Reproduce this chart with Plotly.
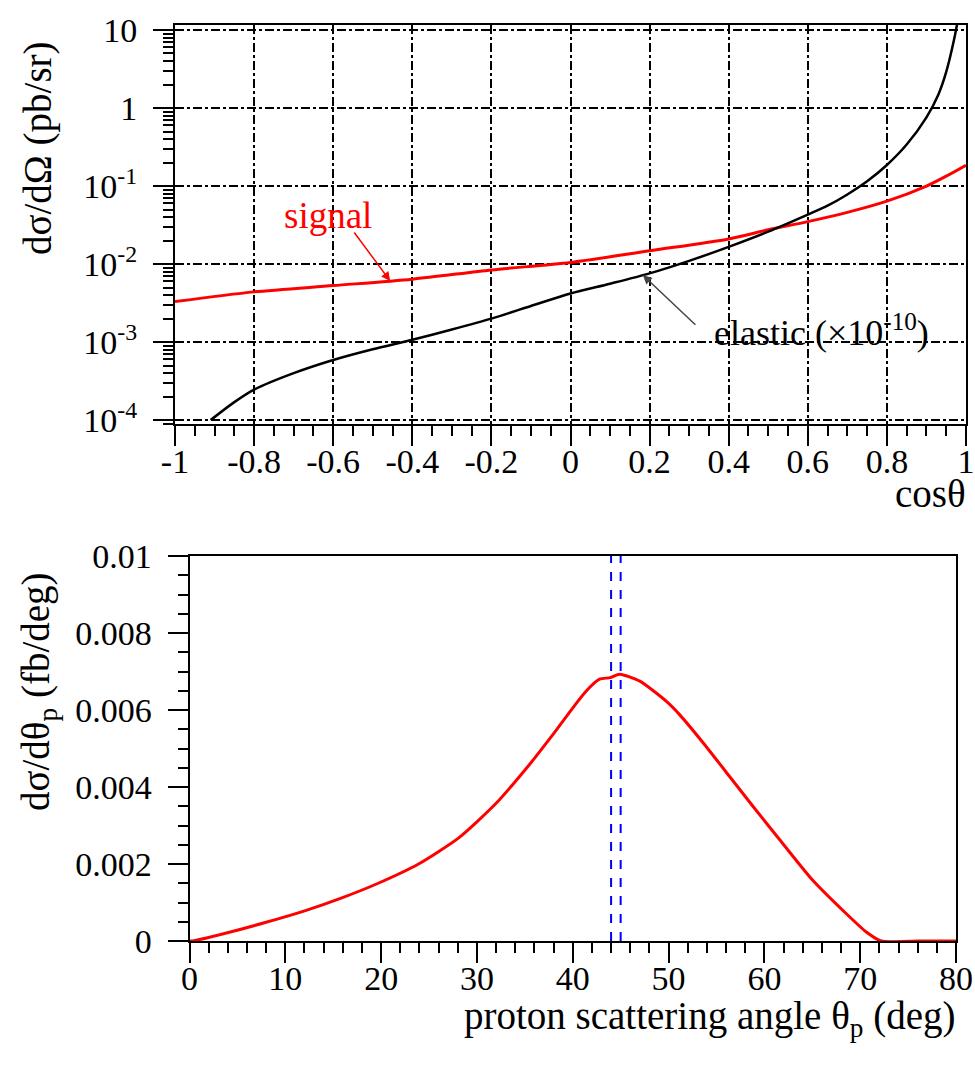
import numpy as np
import plotly.graph_objects as go

# ---------------- data ----------------
# top panel: dsigma/dOmega vs cos(theta)
cos_signal = [-1.0, -0.8, -0.6, -0.4, -0.2, 0.0, 0.2, 0.4, 0.5, 0.6, 0.7, 0.8, 0.9,
              0.95, 1.0]
xsec_signal = [3.3e-3, 4.4e-3, 5.3e-3, 6.4e-3, 8.4e-3, 1.05e-2, 1.48e-2, 2.1e-2,
               2.75e-2, 3.5e-2, 4.6e-2, 6.4e-2, 1.0e-1, 1.34e-1, 1.85e-1]

cos_elastic = [-0.91, -0.85, -0.8, -0.7, -0.6, -0.5, -0.4, -0.3, -0.2, -0.1, 0.0, 0.1,
               0.2, 0.3, 0.4, 0.5, 0.6, 0.65, 0.7, 0.75, 0.8, 0.85, 0.9, 0.93, 0.95,
               0.97, 0.98]
xsec_elastic = [1.0e-4, 1.7e-4, 2.46e-4, 4.0e-4, 5.9e-4, 8.1e-4, 1.07e-3, 1.45e-3,
                2.0e-3, 2.9e-3, 4.2e-3, 5.6e-3, 7.6e-3, 1.1e-2, 1.66e-2, 2.6e-2,
                4.3e-2, 5.6e-2, 7.8e-2, 0.115, 0.186, 0.34, 0.76, 1.48, 2.9, 7.6, 14.0]

# bottom panel: dsigma/dtheta_p vs proton angle
theta_p = [0.0, 0.3, 3.75, 7.9, 12.1, 15.9, 19.7, 23.9, 28.1, 31.9, 35.7, 37.8, 41.25,
           42.8, 43.9, 44.9, 47.0, 49.75, 51.15, 53.6, 56.35, 58.8, 61.6, 65.0, 68.5,
           70.6, 72.2, 76.0, 80.0]
dsig_dtheta = [0.0, 0.0, 0.0002, 0.00048, 0.00079, 0.00112, 0.0015, 0.002, 0.00268,
               0.00355, 0.00465, 0.00532, 0.00645, 0.0068, 0.00684, 0.00693, 0.00675,
               0.00623, 0.00588, 0.00515, 0.00428, 0.0035, 0.00263, 0.00159, 0.00072,
               0.00024, 0.0, 0.0, 0.0]
peak_lines = [44.0, 45.0]

# tick labels
top_xticks = [-1, -0.8, -0.6, -0.4, -0.2, 0, 0.2, 0.4, 0.6, 0.8, 1]
top_xticktext = ["-1", "-0.8", "-0.6", "-0.4", "-0.2", "0", "0.2", "0.4", "0.6", "0.8", "1"]
top_yticks = [1e-4, 1e-3, 1e-2, 1e-1, 1, 10]
top_yticktext = ["10<sup>-4</sup>", "10<sup>-3</sup>", "10<sup>-2</sup>",
                 "10<sup>-1</sup>", "1", "10"]
bot_xticks = [0, 10, 20, 30, 40, 50, 60, 70, 80]
bot_xticktext = ["0", "10", "20", "30", "40", "50", "60", "70", "80"]
bot_yticks = [0, 0.002, 0.004, 0.006, 0.008, 0.01]
bot_yticktext = ["0", "0.002", "0.004", "0.006", "0.008", "0.01"]

# ---------------- figure ----------------
FW, FH = 975, 1066


def px(x):
    return x / FW


def py(y):
    return 1 - y / FH


FONT = "Liberation Serif"
TICKFONT = dict(family=FONT, size=34, color="black")

fig = go.Figure()

fig.add_trace(go.Scatter(x=cos_signal, y=xsec_signal, mode="lines",
                         line=dict(color="red", width=3, shape="spline", smoothing=0.8),
                         xaxis="x", yaxis="y", showlegend=False))
fig.add_trace(go.Scatter(x=cos_elastic, y=xsec_elastic, mode="lines",
                         line=dict(color="black", width=2.5, shape="spline", smoothing=0.8),
                         xaxis="x", yaxis="y", showlegend=False))

fig.add_trace(go.Scatter(x=theta_p, y=dsig_dtheta, mode="lines",
                         line=dict(color="red", width=3, shape="spline", smoothing=0.6),
                         xaxis="x2", yaxis="y2", showlegend=False))
for xv in peak_lines:
    fig.add_trace(go.Scatter(x=[xv, xv], y=[bot_yticks[0], bot_yticks[-1]], mode="lines",
                             line=dict(color="blue", width=2, dash="dash"),
                             xaxis="x2", yaxis="y2", showlegend=False))

axis_common = dict(showline=True, linecolor="black", linewidth=2, mirror=True,
                   ticks="outside", ticklen=20, tickwidth=2, tickcolor="black",
                   tickfont=TICKFONT, zeroline=False, automargin=False,
                   ticklabeloverflow="allow")

fig.update_layout(
    template="none",
    width=FW, height=FH,
    margin=dict(l=0, r=0, t=0, b=0, pad=0),
    paper_bgcolor="white", plot_bgcolor="white",
    showlegend=False,
    xaxis=dict(domain=[px(175), px(966)], range=[-1, 1], anchor="y",
               tickvals=top_xticks, ticktext=top_xticktext, ticklabelstandoff=-14,
               showgrid=True, gridcolor="black", gridwidth=1.5, griddash="dashdot",
               minor=dict(ticks="outside", ticklen=10, tickwidth=1.5, tickcolor="black",
                          dtick=0.05, showgrid=False),
               **axis_common),
    yaxis=dict(domain=[py(424), py(25)], type="log", range=[-4.05, 1.064],
               anchor="x", tickvals=top_yticks, ticktext=top_yticktext,
               ticklabelstandoff=9,
               showgrid=True, gridcolor="black", gridwidth=1.5, griddash="dashdot",
               minor=dict(ticks="outside", ticklen=10, tickwidth=1.5, tickcolor="black",
                          dtick="D1", showgrid=False),
               **axis_common),
    xaxis2=dict(domain=[px(189.5), px(956)], range=[0, 80], anchor="y2",
                tickvals=bot_xticks, ticktext=bot_xticktext, showgrid=False,
                ticklabelstandoff=-14,
                minor=dict(ticks="outside", ticklen=10, tickwidth=1.5, tickcolor="black",
                           dtick=2, showgrid=False),
                **axis_common),
    yaxis2=dict(domain=[py(941), py(556)], range=[0, 0.01], anchor="x2",
                tickvals=bot_yticks, ticktext=bot_yticktext, showgrid=False,
                ticklabelstandoff=9,
                minor=dict(ticks="outside", ticklen=10, tickwidth=1.5, tickcolor="black",
                           dtick=0.0005, showgrid=False),
                **axis_common),
)

# arrow heads sit on the curves (interpolated in log space from the data)
sig_head_x = -0.456
sig_head_y = float(np.interp(sig_head_x, cos_signal, np.log10(xsec_signal)))
el_head_x = 0.183
el_head_y = float(np.interp(el_head_x, cos_elastic, np.log10(xsec_elastic)))

TITLEFONT = dict(family=FONT, size=39, color="black")
annotations = [
    dict(text="dσ/dΩ (pb/sr)", xref="paper", yref="paper", x=px(38), y=py(148),
         textangle=-90, showarrow=False, font=TITLEFONT, xanchor="center", yanchor="middle"),
    dict(text="dσ/dθ<sub>p</sub> (fb/deg)", xref="paper", yref="paper", x=px(38),
         y=py(692), textangle=-90, showarrow=False, font=TITLEFONT,
         xanchor="center", yanchor="middle"),
    dict(text="cosθ", xref="paper", yref="paper", x=px(968), y=py(494),
         showarrow=False, font=TITLEFONT, xanchor="right", yanchor="middle"),
    dict(text="proton scattering angle θ<sub>p</sub> (deg)", xref="paper", yref="paper",
         x=px(958), y=py(1018), showarrow=False, font=TITLEFONT,
         xanchor="right", yanchor="middle"),
    dict(text="signal", xref="paper", yref="paper", x=px(328), y=py(215),
         showarrow=False, font=dict(family=FONT, size=37, color="red"),
         xanchor="center", yanchor="middle"),
    dict(text="", xref="x", yref="y", x=sig_head_x, y=sig_head_y, showarrow=True,
         ax=-37, ay=-50, arrowcolor="red", arrowwidth=1.5, arrowhead=2, arrowsize=1.2),
    dict(text="elastic (×10<sup>-10</sup>)", xref="paper", yref="paper", x=px(821),
         y=py(330), showarrow=False, font=dict(family=FONT, size=36, color="black"),
         xanchor="center", yanchor="middle"),
    dict(text="", xref="x", yref="y", x=el_head_x, y=el_head_y, showarrow=True,
         ax=54, ay=51, arrowcolor="#444444", arrowwidth=1.5, arrowhead=2, arrowsize=1.2),
]
fig.update_layout(annotations=annotations)

# remove the page's default body margin so the figure fills the window exactly
fig.write_html("out.html",
               config={"displayModeBar": False},
               post_script="document.body.style.margin='0';"
                           "document.body.style.overflow='hidden';")
